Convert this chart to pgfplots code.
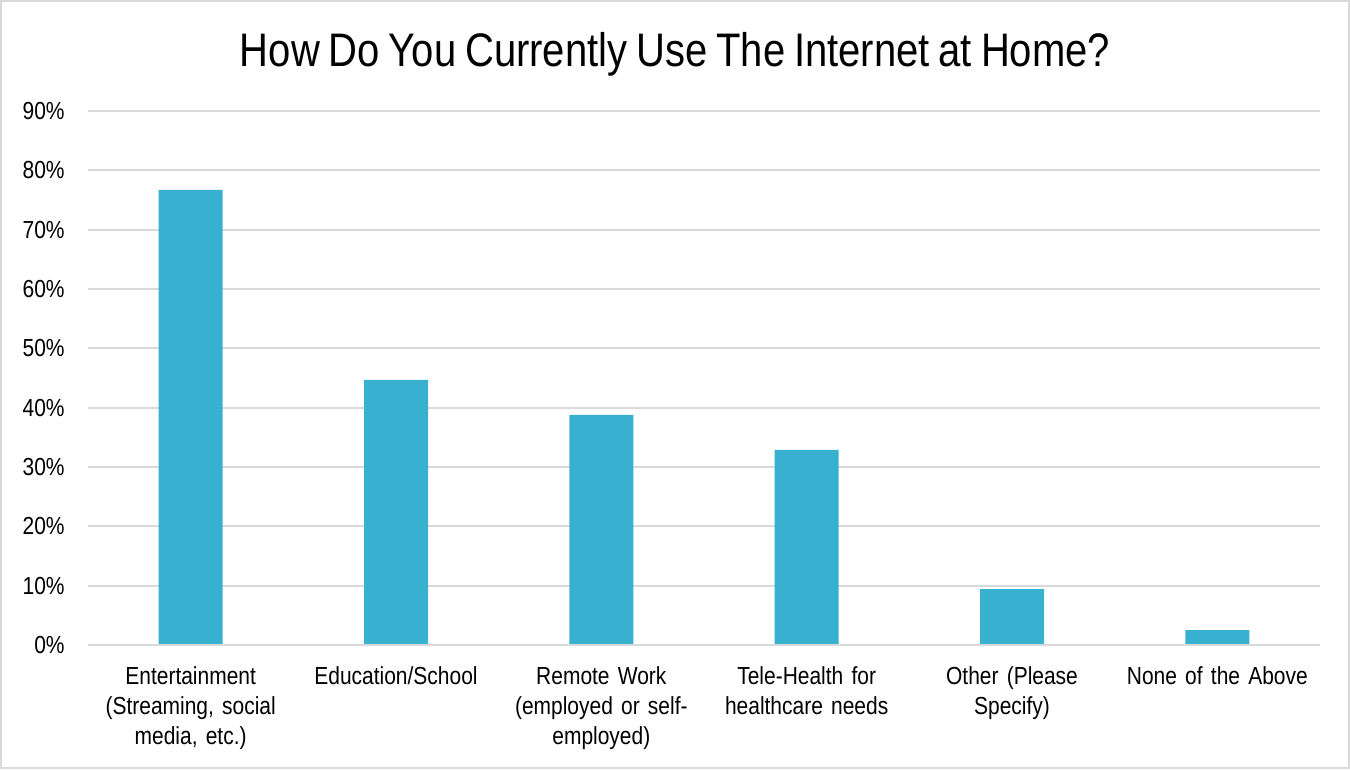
\documentclass[border=0pt]{standalone}
\usepackage{fontspec}
\setmainfont{Liberation Sans}[FakeStretch=0.85, WordSpace=0.8]
\usepackage{pgfplots}
\pgfplotsset{compat=1.18}
\definecolor{barblue}{HTML}{38B0D0}
\definecolor{gridgray}{HTML}{D9D9D9}
\begin{document}
\begin{tikzpicture}
\useasboundingbox (-66pt,-93pt) rectangle (946.5pt,483.75pt);
\draw[gridgray, line width=1.5pt] (-65.25pt,-92.25pt) rectangle (945.75pt,483pt);
\node[font=\fontsize{35.3}{40}\selectfont, anchor=center] at (440.25pt,443pt) {How Do You Currently Use The Internet at Home?};
\begin{axis}[
  at={(0pt,0pt)}, anchor=south west,
  width=924pt, height=400.5pt, scale only axis,
  xmin=-0.5, xmax=5.5, ymin=0, ymax=90,
  ybar, bar width=48pt,
  axis line style={draw=none},
  ytick={0,10,...,90},
  yticklabel={\pgfmathprintnumber{\tick}\%},
  ymajorgrids, grid style={gridgray, line width=1.5pt},
  major tick length=0pt,
  xtick={0,1,2,3,4,5},
  xticklabels={{Entertainment\\(Streaming, social\\media, etc.)},{Education/School},{Remote Work\\(employed or self-\\employed)},{Tele-Health for\\healthcare needs},{Other (Please\\Specify)},{None of the Above}},
  xticklabel style={align=center, text width=150pt, anchor=north, yshift=-13pt, font=\fontsize{18.5}{22.5}\selectfont},
  yticklabel style={anchor=east, xshift=-14pt, font=\fontsize{18.5}{22}\selectfont},
  /pgf/number format/assume math mode=true,
  clip=false,
]
\addplot[fill=barblue, draw=none] coordinates {(0,76.7) (1,44.7) (2,38.8) (3,32.9) (4,9.4) (5,2.5)};
\draw[gridgray, line width=1.5pt] (axis cs:-0.5,0) -- (axis cs:5.5,0);
\end{axis}
\end{tikzpicture}
\end{document}
